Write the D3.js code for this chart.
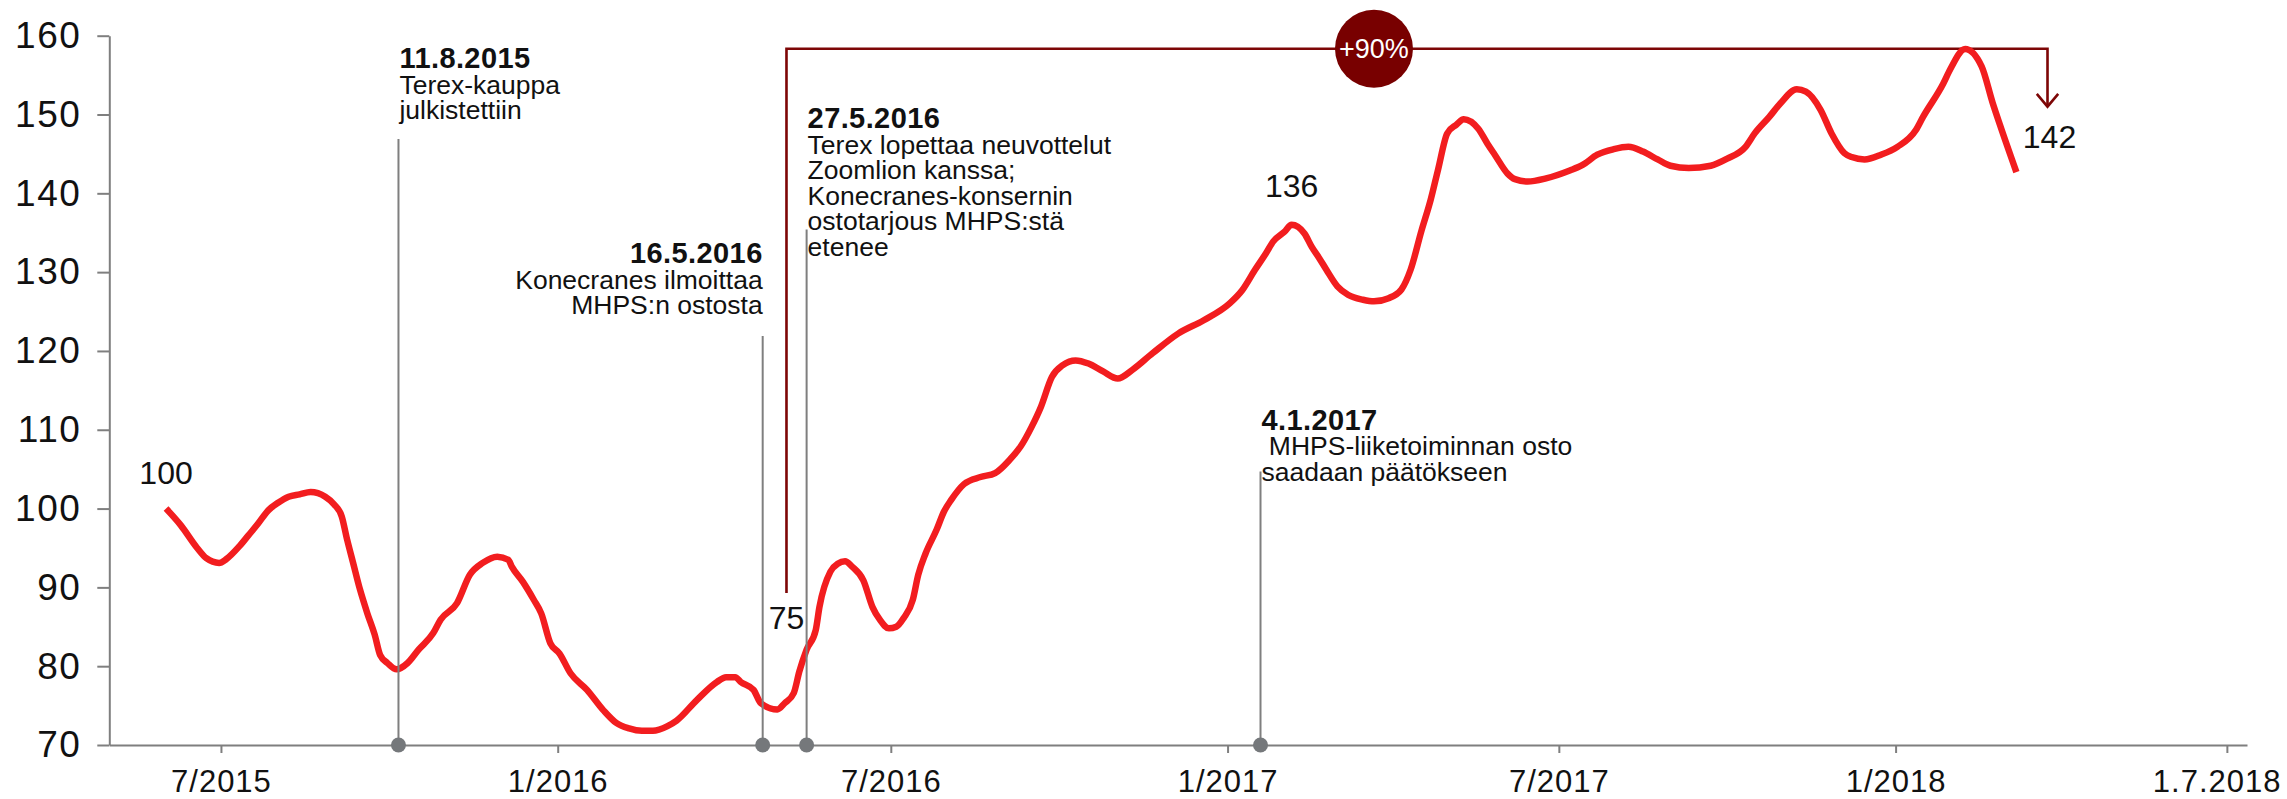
<!DOCTYPE html>
<html>
<head>
<meta charset="utf-8">
<script src="https://cdn.jsdelivr.net/npm/d3@7"></script>
<style>
  body { margin: 0; background: #fff; }
  svg text { font-family: "Liberation Sans", Arial, sans-serif; fill: #111; }
</style>
</head>
<body>
<svg id="chart" width="2287" height="799"></svg>
<script>
// index values (start = 100)
const dates = [
  "2015-06-01","2015-06-09","2015-06-18","2015-06-23","2015-06-30","2015-07-04","2015-07-11","2015-07-16","2015-07-21","2015-07-27",
  "2015-08-01","2015-08-07","2015-08-13","2015-08-19","2015-08-27","2015-09-01","2015-09-05","2015-09-08","2015-09-11","2015-09-15",
  "2015-09-19","2015-09-23","2015-09-26","2015-09-30","2015-10-05","2015-10-11","2015-10-17","2015-10-25","2015-10-29","2015-11-07",
  "2015-11-14","2015-11-21","2015-11-29","2015-12-05","2015-12-07","2015-12-13","2015-12-19","2015-12-23","2015-12-28","2016-01-02",
  "2016-01-08","2016-01-17","2016-01-26","2016-02-02","2016-02-09","2016-02-16","2016-02-22","2016-03-01","2016-03-06","2016-03-17",
  "2016-03-28","2016-04-02","2016-04-07","2016-04-10","2016-04-17","2016-04-21","2016-04-30","2016-05-04","2016-05-09","2016-05-12",
  "2016-05-16","2016-05-21","2016-05-23","2016-05-29","2016-06-02","2016-06-06","2016-06-10","2016-06-16","2016-06-21","2016-06-25",
  "2016-06-30","2016-07-04","2016-07-08","2016-07-13","2016-07-16","2016-07-20","2016-07-26","2016-07-30","2016-08-03","2016-08-10",
  "2016-08-19","2016-08-27","2016-09-04","2016-09-10","2016-09-16","2016-09-21","2016-09-27","2016-10-03","2016-10-10","2016-10-17",
  "2016-10-25","2016-11-02","2016-11-10","2016-11-21","2016-12-05","2016-12-19","2017-01-02","2017-01-09","2017-01-16","2017-01-22",
  "2017-01-26","2017-02-01","2017-02-05","2017-02-12","2017-02-16","2017-02-20","2017-02-24","2017-03-02","2017-03-08","2017-03-16",
  "2017-03-22","2017-03-30","2017-04-06","2017-04-11","2017-04-17","2017-04-22","2017-04-26","2017-05-01","2017-05-06","2017-05-10",
  "2017-05-18","2017-05-23","2017-05-27","2017-06-03","2017-06-07","2017-06-14","2017-06-24","2017-07-07","2017-07-14","2017-07-22",
  "2017-07-31","2017-08-08","2017-08-16","2017-08-24","2017-08-31","2017-09-10","2017-09-22","2017-10-01","2017-10-11","2017-10-16",
  "2017-10-24","2017-10-30","2017-11-08","2017-11-13","2017-11-21","2017-11-27","2017-12-04","2017-12-08","2017-12-15","2017-12-24",
  "2018-01-02","2018-01-12","2018-01-16","2018-01-27","2018-01-31","2018-02-08","2018-02-17","2018-02-23","2018-02-27","2018-03-08"
];
const values = [
  100.0, 97.9, 95.0, 93.7, 93.1, 93.6, 95.2, 96.6, 98.0, 99.8,
  100.7, 101.5, 101.8, 102.1, 101.5, 100.5, 99.0, 96.0, 93.3, 89.7,
  86.7, 84.0, 81.4, 80.4, 79.6, 80.4, 82.1, 84.2, 85.9, 88.0,
  91.6, 93.1, 93.9, 93.5, 92.6, 90.7, 88.4, 86.7, 82.9, 81.6,
  79.1, 77.0, 74.4, 72.8, 72.1, 71.8, 71.8, 72.4, 73.1, 75.7,
  78.0, 78.6, 78.6, 78.0, 77.0, 75.3, 74.5, 75.3, 76.6, 79.3,
  82.1, 84.6, 87.5, 92.0, 93.0, 93.3, 92.6, 90.9, 87.5, 85.9,
  84.8, 85.0, 86.1, 88.4, 91.6, 94.3, 97.3, 99.6, 101.1, 103.1,
  104.0, 104.5, 106.2, 107.9, 110.4, 112.9, 116.7, 118.2, 118.8, 118.4,
  117.4, 116.5, 117.6, 119.7, 122.2, 123.9, 126.0, 127.7, 130.3, 132.4,
  133.9, 135.1, 136.0, 134.9, 133.2, 131.8, 130.3, 128.2, 127.1, 126.5,
  126.3, 126.7, 127.8, 130.3, 135.3, 139.2, 143.0, 147.6, 148.7, 149.4,
  148.2, 146.3, 144.9, 142.5, 141.8, 141.5, 141.9, 142.9, 143.6, 144.9,
  145.6, 145.9, 145.3, 144.3, 143.5, 143.2, 143.5, 144.4, 145.9, 147.6,
  149.7, 151.4, 153.2, 152.9, 150.6, 147.6, 145.1, 144.6, 144.3, 144.9,
  145.9, 148.0, 149.7, 153.9, 155.8, 158.3, 156.1, 151.5, 148.7, 142.7
];

// axes
const xDomain = ["2015-05-01", "2018-07-12"];
const xTickDates = ["2015-07-01", "2016-01-01", "2016-07-01", "2017-01-01", "2017-07-01", "2018-01-01", "2018-07-01"];
const xTickLabels = ["7/2015", "1/2016", "7/2016", "1/2017", "7/2017", "1/2018", "1.7.2018"];
const yTicks = [70, 80, 90, 100, 110, 120, 130, 140, 150, 160];

// events marked on the x axis
const eventDates = ["2015-10-06", "2016-04-22", "2016-05-16", "2017-01-19"];
const eventTitles = ["11.8.2015", "16.5.2016", "27.5.2016", "4.1.2017"];
const eventTexts = [
  ["Terex-kauppa", "julkistettiin"],
  ["Konecranes ilmoittaa", "MHPS:n ostosta"],
  ["Terex lopettaa neuvottelut", "Zoomlion kanssa;", "Konecranes-konsernin", "ostotarjous MHPS:stä", "etenee"],
  [" MHPS-liiketoiminnan osto", "saadaan päätökseen"]
];
const eventLineTops = [146.9, 121.9, 135.4, 104.7];
const eventTextTops = [155.9, 131.1, 148.25, 110.0];
const eventAnchors = ["start", "end", "start", "start"];

// bottom-to-top change bracket
const bracketDates = ["2016-05-05", "2018-03-25"];
const bracketValues = [89.3, 158.35, 151.0]; // left foot, top, arrow tip
const changeDate = "2017-03-22";
const changeLabel = "+90%";
const pointLabels = ["100", "136", "75", "142"];

const W = 2287;
const parseDate = d3.timeParse("%Y-%m-%d");
const series = dates.map((d, i) => ({ date: parseDate(d), value: values[i] }));

const svg = d3.select("#chart");

const x = d3.scaleTime()
  .domain(xDomain.map(parseDate))
  .range([109.3, 2247]);
const y = d3.scaleLinear()
  .domain([70, 160])
  .range([745, 35.7]);

const gray = "#7f7f7f";
const darkRed = "#7d0606";

// y axis
const yAxis = svg.append("g")
  .attr("transform", `translate(${x.range()[0]},0)`)
  .call(d3.axisLeft(y).tickValues(yTicks).tickSize(12).tickSizeOuter(0).tickPadding(16));
yAxis.selectAll("path, line").attr("stroke", gray).attr("stroke-width", 2);
yAxis.selectAll("text")
  .style("font-size", "37px")
  .style("letter-spacing", "1.5px")
  .attr("fill", "#111");

// x axis
const xAxis = svg.append("g")
  .attr("transform", `translate(0,${y(70)})`)
  .call(d3.axisBottom(x)
    .tickValues(xTickDates.map(parseDate))
    .tickFormat((d, i) => xTickLabels[i])
    .tickSize(8).tickSizeOuter(0).tickPadding(17));
xAxis.selectAll("path, line").attr("stroke", gray).attr("stroke-width", 2);
xAxis.selectAll("text")
  .style("font-size", "31px")
  .style("letter-spacing", "1px")
  .attr("fill", "#111");

// keep the last tick label inside the picture
xAxis.selectAll(".tick").each(function(d) {
  const txt = d3.select(this).select("text");
  const half = txt.node().getComputedTextLength() / 2;
  const over = x(d) + half - (W - 6);
  if (over > 0) txt.attr("dx", -over);
});

// bracket from the low point to the end value
const bx0 = x(parseDate(bracketDates[0]));
const bx1 = x(parseDate(bracketDates[1]));
const byFoot = y(bracketValues[0]);
const byTop = y(bracketValues[1]);
const byTip = y(bracketValues[2]);
svg.append("path")
  .attr("d", `M${bx0},${byFoot}V${byTop}H${bx1}V${byTip}`)
  .attr("fill", "none")
  .attr("stroke", darkRed)
  .attr("stroke-width", 2.6);
svg.append("path")
  .attr("d", `M${bx1 - 10.7},${byTip - 12.7}L${bx1},${byTip}L${bx1 + 10.7},${byTip - 12.7}`)
  .attr("fill", "none")
  .attr("stroke", darkRed)
  .attr("stroke-width", 2.6);

const cx = x(parseDate(changeDate));
svg.append("circle")
  .attr("cx", cx)
  .attr("cy", byTop)
  .attr("r", 39)
  .attr("fill", "#780000");
svg.append("text")
  .attr("x", cx)
  .attr("y", byTop)
  .attr("dy", "0.36em")
  .attr("text-anchor", "middle")
  .style("font-size", "27px")
  .style("fill", "#fff")
  .text(changeLabel);

// the index line
const line = d3.line()
  .x(d => x(d.date))
  .y(d => y(d.value))
  .curve(d3.curveMonotoneX);
svg.append("path")
  .datum(series)
  .attr("d", line)
  .attr("fill", "none")
  .attr("stroke", "#f21d1f")
  .attr("stroke-width", 6.5)
  .attr("stroke-linejoin", "round");

// event lines, dots and texts
eventDates.forEach((d, i) => {
  const ex = x(parseDate(d));
  svg.append("line")
    .attr("x1", ex).attr("x2", ex)
    .attr("y1", y(eventLineTops[i])).attr("y2", y(70))
    .attr("stroke", gray)
    .attr("stroke-width", 2);
  svg.append("circle")
    .attr("cx", ex).attr("cy", y(70))
    .attr("r", 7.5)
    .attr("fill", "#75787b");

  const tx = eventAnchors[i] === "start" ? ex + 1 : ex;
  const t = svg.append("text")
    .attr("x", tx)
    .attr("y", y(eventTextTops[i]))
    .attr("text-anchor", eventAnchors[i])
    .style("white-space", "pre");
  t.append("tspan")
    .style("font-weight", "bold")
    .style("font-size", "29px")
    .style("letter-spacing", "0.4px")
    .text(eventTitles[i]);
  eventTexts[i].forEach(s => {
    t.append("tspan")
      .attr("x", tx)
      .attr("dy", 25.5)
      .style("font-size", "26.5px")
      .text(s);
  });
});

// value labels
const firstBefore = series.filter(d => d.date < parseDate("2017-04-01"));
const peak = firstBefore[d3.maxIndex(firstBefore, d => d.value)];
const labelPos = [
  [x(series[0].date), y(series[0].value) - 25],
  [x(peak.date), y(peak.value) - 28],
  [bx0, byFoot + 36],
  [bx1 + 2, byTip + 41]
];
pointLabels.forEach((s, i) => {
  svg.append("text")
    .attr("x", labelPos[i][0])
    .attr("y", labelPos[i][1])
    .attr("text-anchor", "middle")
    .style("font-size", "32px")
    .text(s);
});
</script>
</body>
</html>
